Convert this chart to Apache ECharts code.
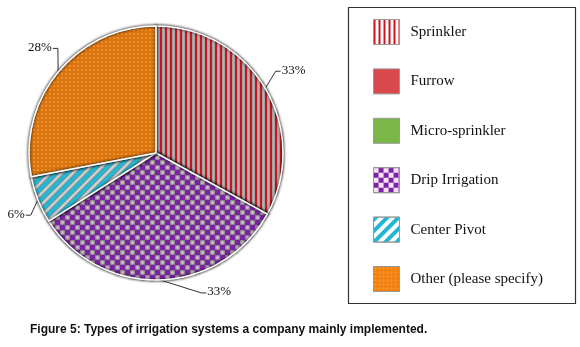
<!DOCTYPE html>
<html>
<head>
<meta charset="utf-8">
<script src="https://cdn.jsdelivr.net/npm/echarts@6/dist/echarts.min.js"></script>
<style>
  html, body { margin: 0; padding: 0; background: #fff; }
  #chart { width: 580px; height: 347px; }
</style>
</head>
<body>
<div id="chart"></div>
<script>
// data
var categories = ['Sprinkler', 'Furrow', 'Micro-sprinkler', 'Drip Irrigation', 'Center Pivot', 'Other (please specify)'];
var shares = [33, 0, 0, 33, 6, 28];
var caption = 'Figure 5: Types of irrigation systems a company mainly implemented.';

// fill + pattern per category
var fills = [
    { color: '#ffffff', decal: { symbol: 'rect', color: '#cc1420', dashArrayX: [2, 2.5], dashArrayY: [1, 0], symbolSize: 1 } },
    { color: '#d9484c' },
    { color: '#7ab648' },
    { color: '#f8e2f6', decal: { symbol: 'rect', color: '#7a24a4', dashArrayX: [[5, 5], [0, 5, 5, 0]], dashArrayY: [5, 0], symbolSize: 1 } },
    { color: '#ffffff', decal: { symbol: 'rect', color: '#22b8d4', dashArrayX: [1, 0], dashArrayY: [3.5, 3.5], rotation: -Math.PI / 4, symbolSize: 1 } },
    { color: '#f27f0c', decal: { symbol: 'circle', color: '#ffc98a', dashArrayX: [4, 0], dashArrayY: [4, 0], symbolSize: 0.35 } }
];

// nudge the percentage labels to where the original put them
var labelShift = [[0, -12], [0, 0], [0, 0], [41, 0], [4, 10], [9, -17]];

var myChart = echarts.init(document.getElementById('chart'));

var pieData = categories.map(function (name, i) {
    var item = {
        name: name,
        value: shares[i],
        itemStyle: { color: fills[i].color, decal: fills[i].decal || null }
    };
    if (shares[i] === 0) {
        item.label = { show: false };
        item.labelLine = { show: false };
    }
    return item;
});

var option = {
    backgroundColor: '#ffffff',
    animation: false,
    title: {
        text: caption,
        left: 25,
        top: 319,
        textStyle: { fontFamily: 'Liberation Sans', fontSize: 12, fontWeight: 'bold', color: '#111' }
    },
    legend: {
        orient: 'vertical',
        left: 368,
        top: 14,
        itemWidth: 26,
        itemHeight: 25,
        itemGap: 23.4,
        icon: 'rect',
        data: categories,
        itemStyle: { borderColor: '#999', borderWidth: 1 },
        textStyle: { fontFamily: 'Liberation Serif', fontSize: 15, color: '#111', padding: [0, 0, 0, 6] },
        selectedMode: false
    },
    graphic: [{
        type: 'rect',
        left: 346,
        top: 5,
        shape: { width: 227, height: 296 },
        style: { fill: 'none', stroke: '#333', lineWidth: 1.2 }
    }],
    series: [{
        type: 'pie',
        center: [156, 153],
        radius: 127,
        startAngle: 90,
        clockwise: true,
        avoidLabelOverlap: false,
        itemStyle: {
            borderColor: '#ffffff',
            borderWidth: 1.5,
            shadowBlur: 3,
            shadowColor: 'rgba(0,0,0,0.35)'
        },
        label: {
            formatter: '{c}%',
            fontFamily: 'Liberation Serif',
            fontSize: 13,
            color: '#111',
            distanceToLabelLine: 2
        },
        labelLine: {
            length: 12,
            length2: 4,
            lineStyle: { color: '#333', width: 1 }
        },
        labelLayout: function (params) {
            var s = labelShift[params.dataIndex];
            var r = params.labelRect;
            var pts = params.labelLinePoints;
            if (!pts) return { dx: s[0], dy: s[1] };
            var nx = r.x + s[0], ny = r.y + s[1];
            var start = pts[0];
            var rightSide = nx + r.width / 2 > start[0];
            var end = rightSide ? [nx - 1, ny + r.height / 2 + 1] : [nx + r.width + 1, ny + r.height / 2 + 1];
            var elbow = rightSide ? [end[0] - 5, end[1]] : [end[0] + 5, end[1]];
            return { dx: s[0], dy: s[1], labelLinePoints: [start, elbow, end] };
        },
        data: pieData
    }]
};

myChart.setOption(option);
</script>
</body>
</html>
